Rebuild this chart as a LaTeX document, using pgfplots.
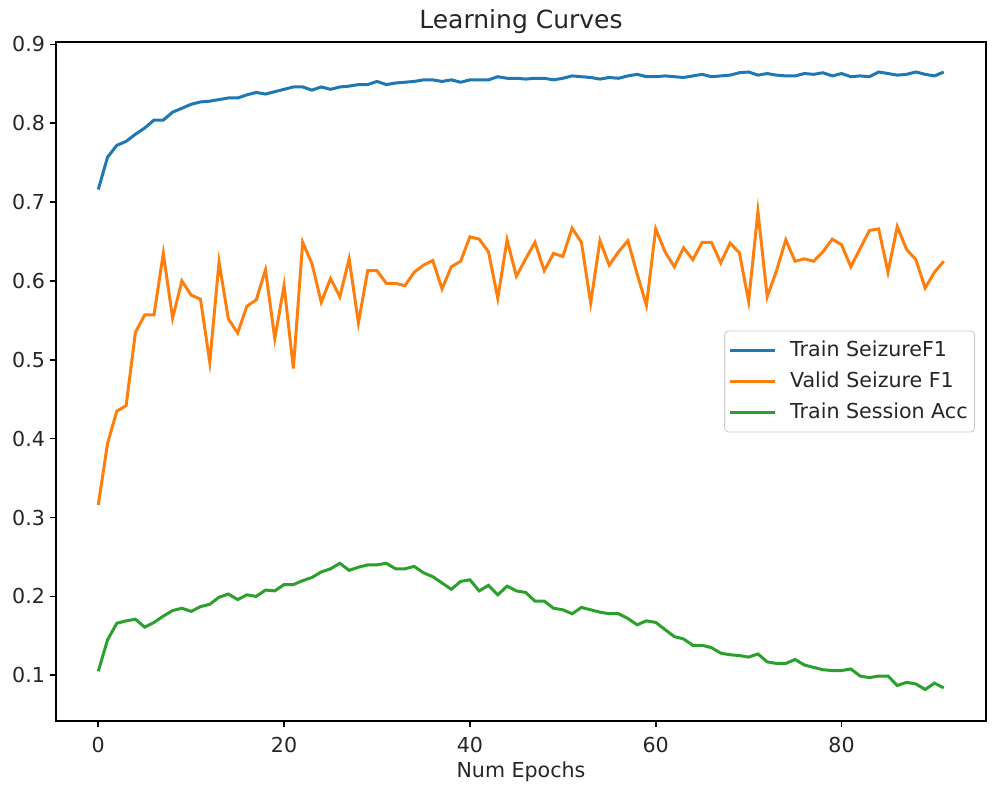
\documentclass[border=0pt]{standalone}
\usepackage{fontspec}
\setmainfont{DejaVu Sans}
\usepackage{pgfplots}
\usepackage{pgfplotstable}
\pgfplotsset{compat=1.18}
\definecolor{tabblue}{HTML}{1F77B4}
\definecolor{taborange}{HTML}{FF7F0E}
\definecolor{tabgreen}{HTML}{2CA02C}
\pgfplotstableread{
x train valid sess
0 0.716 0.316 0.105
1 0.757 0.394 0.145
2 0.772 0.435 0.166
3 0.777 0.442 0.169
4 0.786 0.535 0.171
5 0.794 0.557 0.161
6 0.804 0.557 0.167
7 0.804 0.635 0.175
8 0.814 0.553 0.182
9 0.819 0.600 0.185
10 0.824 0.582 0.181
11 0.827 0.577 0.187
12 0.828 0.497 0.190
13 0.830 0.624 0.199
14 0.832 0.552 0.203
15 0.832 0.534 0.196
16 0.836 0.568 0.202
17 0.839 0.576 0.200
18 0.837 0.614 0.208
19 0.840 0.527 0.207
20 0.843 0.594 0.215
21 0.846 0.489 0.215
22 0.846 0.649 0.220
23 0.842 0.622 0.224
24 0.846 0.573 0.231
25 0.843 0.603 0.235
26 0.846 0.580 0.242
27 0.847 0.628 0.233
28 0.849 0.547 0.237
29 0.849 0.613 0.240
30 0.853 0.613 0.240
31 0.849 0.597 0.242
32 0.851 0.597 0.235
33 0.852 0.594 0.235
34 0.853 0.611 0.238
35 0.855 0.620 0.230
36 0.855 0.626 0.225
37 0.853 0.590 0.217
38 0.855 0.618 0.209
39 0.852 0.625 0.219
40 0.855 0.656 0.221
41 0.855 0.653 0.207
42 0.855 0.637 0.214
43 0.859 0.578 0.202
44 0.857 0.652 0.213
45 0.857 0.606 0.207
46 0.856 0.628 0.205
47 0.857 0.649 0.194
48 0.857 0.613 0.194
49 0.855 0.635 0.185
50 0.857 0.631 0.183
51 0.860 0.667 0.178
52 0.859 0.649 0.186
53 0.858 0.572 0.183
54 0.856 0.651 0.180
55 0.858 0.620 0.178
56 0.857 0.637 0.178
57 0.860 0.651 0.172
58 0.862 0.609 0.164
59 0.859 0.569 0.169
60 0.859 0.666 0.167
61 0.860 0.637 0.158
62 0.859 0.618 0.149
63 0.858 0.642 0.146
64 0.860 0.627 0.138
65 0.862 0.649 0.138
66 0.859 0.649 0.135
67 0.860 0.623 0.128
68 0.861 0.648 0.126
69 0.864 0.636 0.125
70 0.865 0.574 0.123
71 0.861 0.688 0.127
72 0.863 0.580 0.117
73 0.861 0.613 0.115
74 0.860 0.652 0.115
75 0.860 0.625 0.120
76 0.863 0.628 0.113
77 0.862 0.625 0.110
78 0.864 0.637 0.107
79 0.860 0.653 0.106
80 0.863 0.646 0.106
81 0.859 0.618 0.108
82 0.860 0.641 0.099
83 0.859 0.664 0.097
84 0.865 0.666 0.099
85 0.863 0.611 0.099
86 0.861 0.669 0.087
87 0.862 0.640 0.091
88 0.865 0.627 0.089
89 0.862 0.591 0.082
90 0.860 0.611 0.090
91 0.865 0.625 0.084
}\datatable
\begin{document}
\begin{tikzpicture}
\useasboundingbox (-28pt,-38.5pt) rectangle (468pt,360.5pt);
\begin{axis}[
  at={(0,0)}, anchor=south west,
  scale only axis,
  width=465pt, height=339.5pt,
  xmin=-4.55, xmax=95.55,
  ymin=0.042, ymax=0.903,
  xtick={0,20,40,60,80},
  ytick={0.1,0.2,0.3,0.4,0.5,0.6,0.7,0.8,0.9},
  yticklabel={\pgfmathprintnumber[fixed,fixed zerofill,precision=1]{\tick}},
  /pgf/number format/assume math mode=true,
  tick align=outside, tick pos=left,
  major tick length=3pt,
  every tick/.style={black, line width=0.8pt},
  axis line style={black, line width=0.85pt},
  ticklabel style={font=\fontsize{10.3}{12}\selectfont, text=black!85},
  xticklabel style={yshift=-1.6pt},
  yticklabel style={xshift=1pt},
  title={Learning Curves},
  title style={at={(axis description cs:0.5,1)}, anchor=base, yshift=1pt, font=\fontsize{12.5}{14}\selectfont, text=black!85},
  xlabel={Num Epochs},
  xlabel style={at={(axis description cs:0.5,0)}, anchor=base, yshift=-28pt, font=\fontsize{10.3}{12}\selectfont, text=black!85},
  legend style={at={(axis description cs:1,0.5)}, anchor=east, xshift=-5.5pt,
    draw=black!20, rounded corners=2pt, fill=white, fill opacity=0.8, text opacity=1,
    font=\fontsize{10.3}{12}\selectfont, text=black!85,
    inner xsep=2pt, inner ysep=3pt, row sep=2pt,
    nodes={inner sep=1.5pt, text height=8pt, text depth=2.5pt}},
  legend cell align=left,
  legend image code/.code={\path[draw=none,fill=none] (0pt,0pt) -- (28.5pt,0pt);\draw[#1] (0pt,0pt) -- (22.5pt,0pt);},
]
\addplot[tabblue, line width=1.5pt] table[x=x, y=train] {\datatable};
\addlegendentry{Train SeizureF1}
\addplot[taborange, line width=1.5pt] table[x=x, y=valid] {\datatable};
\addlegendentry{Valid Seizure F1}
\addplot[tabgreen, line width=1.5pt] table[x=x, y=sess] {\datatable};
\addlegendentry{Train Session Acc}
\end{axis}
\end{tikzpicture}
\end{document}
